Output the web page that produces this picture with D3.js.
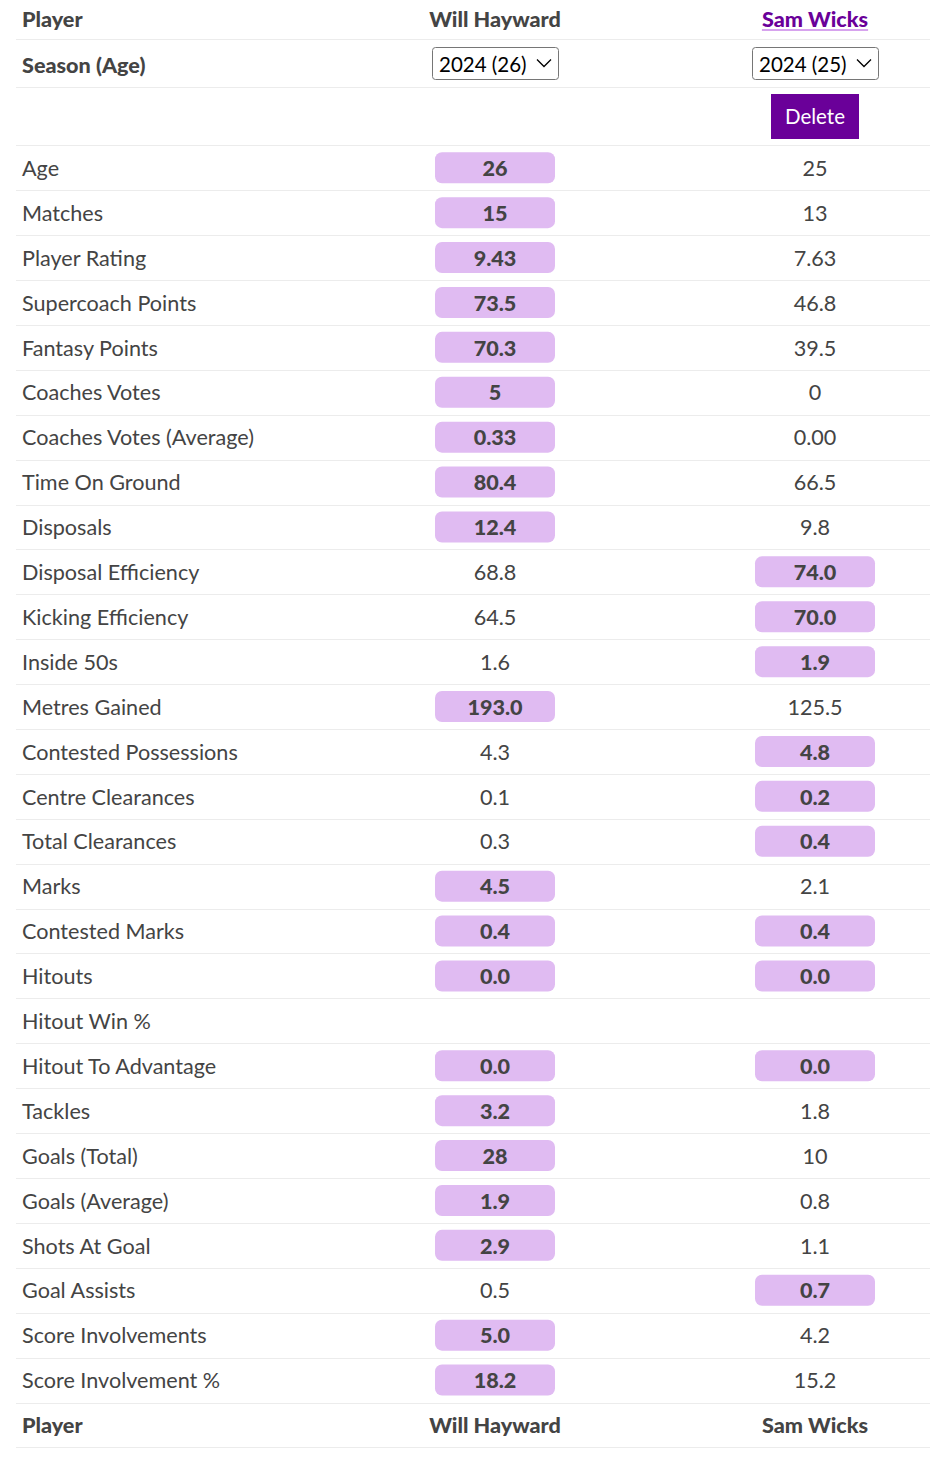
<!DOCTYPE html>
<html><head><meta charset="utf-8">
<script src="https://cdn.jsdelivr.net/npm/d3@7"></script>
<style>
html,body{margin:0;padding:0;background:#fff;}
svg text{font-family:"Lato","Noto Sans",sans-serif;}
</style></head>
<body>
<svg id="chart" width="930" height="1468"></svg>
<script>
const players = ["Will Hayward", "Sam Wicks"];
const seasons = ["2024 (26)", "2024 (25)"];
const statLabels = ["Age","Matches","Player Rating","Supercoach Points","Fantasy Points","Coaches Votes","Coaches Votes (Average)","Time On Ground","Disposals","Disposal Efficiency","Kicking Efficiency","Inside 50s","Metres Gained","Contested Possessions","Centre Clearances","Total Clearances","Marks","Contested Marks","Hitouts","Hitout Win %","Hitout To Advantage","Tackles","Goals (Total)","Goals (Average)","Shots At Goal","Goal Assists","Score Involvements","Score Involvement %"];
const willValues = ["26","15","9.43","73.5","70.3","5","0.33","80.4","12.4","68.8","64.5","1.6","193.0","4.3","0.1","0.3","4.5","0.4","0.0","","0.0","3.2","28","1.9","2.9","0.5","5.0","18.2"];
const samValues = ["25","13","7.63","46.8","39.5","0","0.00","66.5","9.8","74.0","70.0","1.9","125.5","4.8","0.2","0.4","2.1","0.4","0.0","","0.0","1.8","10","0.8","1.1","0.7","4.2","15.2"];

const svg = d3.select("#chart");
const W = 930;
const textCol = "#444";
const lineCol = "#ececec";
const purple = "#6a0099";
const pill = "#e0bbf2";
const fs = 21.6;

const x = d3.scaleOrdinal().domain(["label","p0","p1"]).range([22, 495, 815]);
const y = d3.scaleBand().domain(statLabels).range([145.3, 1402.5]).padding(0);

// horizontal rules
const rules = [39, 87, 145.3, ...statLabels.map(s => y(s) + y.bandwidth()), 1447];
svg.append("g").selectAll("line").data(rules).join("line")
  .attr("x1", 16).attr("x2", W).attr("y1", d => Math.round(d) + 0.5).attr("y2", d => Math.round(d) + 0.5)
  .attr("stroke", lineCol).attr("stroke-width", 1.2);

// header rows
function headerRow(cy, isTop) {
  const g = svg.append("g");
  g.append("text").attr("x", x("label")).attr("y", cy).attr("dy", "0.38em")
    .attr("font-size", fs).attr("font-weight", 900).attr("fill", textCol).text("Player");
  players.forEach((p, i) => {
    const t = g.append("text").attr("x", x("p" + i)).attr("y", cy).attr("dy", "0.38em")
      .attr("text-anchor", "middle").attr("font-size", fs).attr("font-weight", 900)
      .attr("fill", (isTop && i === 1) ? purple : textCol).text(p);
    if (isTop && i === 1) {
      const bb = t.node().getBBox();
      g.append("line").attr("x1", bb.x).attr("x2", bb.x + bb.width)
        .attr("y1", cy + 11).attr("y2", cy + 11).attr("stroke", "#d7a3ee").attr("stroke-width", 2);
    }
  });
}
headerRow(19, true);
headerRow(1425, false);

// season row
svg.append("text").attr("x", x("label")).attr("y", 65).attr("dy", "0.38em")
  .attr("font-size", fs).attr("font-weight", 900).attr("fill", textCol).text("Season (Age)");
seasons.forEach((s, i) => {
  const cx = x("p" + i);
  const g = svg.append("g").attr("transform", `translate(${cx - 63},47)`);
  g.append("rect").attr("x", 0.5).attr("y", 0.5).attr("width", 126).attr("height", 32).attr("rx", 3)
    .attr("fill", "#fff").attr("stroke", "#767676");
  g.append("text").attr("x", 7).attr("y", 17).attr("dy", "0.38em").attr("font-size", 20.5)
    .attr("fill", "#000").text(s);
  g.append("path").attr("d", "M105,12.5 L112,19.5 L119,12.5").attr("fill", "none")
    .attr("stroke", "#000").attr("stroke-width", 1.3);
});

// delete button
const del = svg.append("g").attr("transform", `translate(${x("p1") - 44},94)`);
del.append("rect").attr("width", 88).attr("height", 45).attr("fill", purple);
del.append("text").attr("x", 44).attr("y", 22.5).attr("dy", "0.38em").attr("text-anchor", "middle")
  .attr("font-size", 20.5).attr("fill", "#fff").text("Delete");

// stat rows
const rows = statLabels.map((label, i) => {
  const a = willValues[i], b = samValues[i];
  const na = parseFloat(a), nb = parseFloat(b);
  const has = a !== "" && b !== "";
  return {label, vals: [a, b], best: [has && na >= nb, has && nb >= na]};
});

const rg = svg.append("g").selectAll("g").data(rows).join("g")
  .attr("transform", d => `translate(0,${y(d.label) + y.bandwidth() / 2})`);

rg.append("text").attr("x", x("label")).attr("dy", "0.38em").attr("font-size", fs)
  .attr("fill", textCol).text(d => d.label);

[0, 1].forEach(i => {
  const cx = x("p" + i);
  rg.filter(d => d.best[i]).append("rect")
    .attr("x", cx - 60).attr("y", -15.5).attr("width", 120).attr("height", 31).attr("rx", 7)
    .attr("fill", pill);
  rg.append("text").attr("x", cx).attr("dy", "0.38em").attr("text-anchor", "middle")
    .attr("font-size", fs).attr("font-weight", d => d.best[i] ? 900 : 400)
    .attr("fill", textCol).text(d => d.vals[i]);
});
</script>
</body></html>
